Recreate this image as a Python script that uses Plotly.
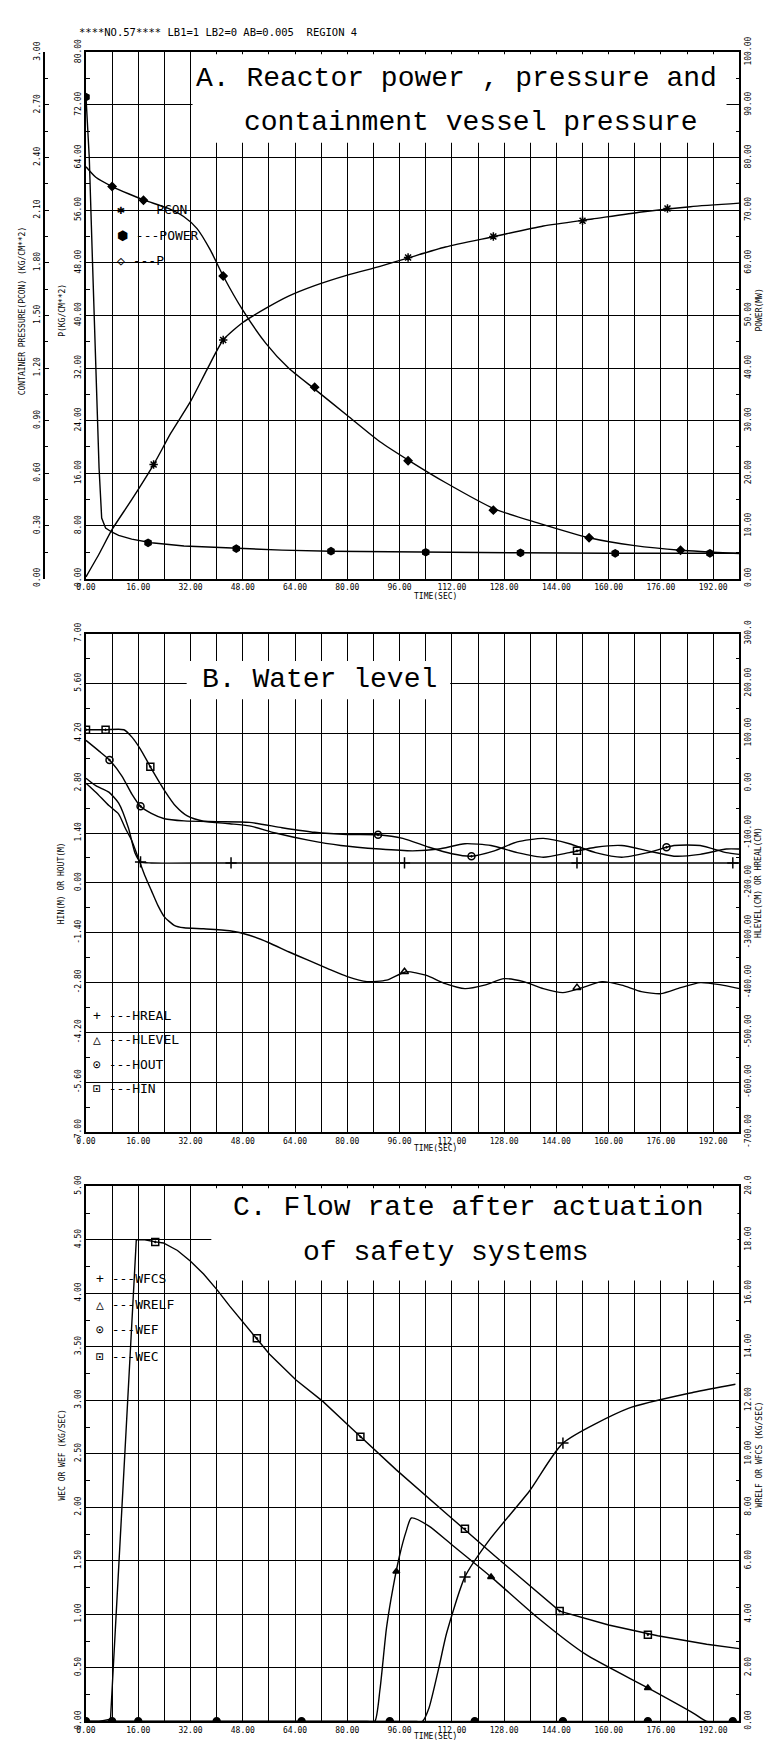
import plotly.graph_objects as go

W, H = 765, 1756
L, R = 77, 739
A_top, A_bot = 37, 573
B_top, B_bot = 629, 1137
C_top, C_bot = 1192, 1737

# ---------------- Panel A data ----------------
tA_P = [0, 3, 8, 13, 18, 25, 30, 34, 38, 42, 48, 55, 62, 70, 80, 90, 99, 110, 125, 138, 154, 168, 182, 200]
P_val = [62.6, 61.0, 59.6, 58.5, 57.5, 56.3, 55.0, 53.2, 50.0, 46.0, 40.8, 35.8, 32.0, 28.8, 24.8, 20.8,
         17.9, 14.6, 10.6, 8.5, 6.2, 5.0, 4.3, 3.8]
tA_P_mk = [8, 17.6, 42, 70, 98.6, 124.7, 154, 182]
P_mk = [59.6, 57.5, 46.0, 29.1, 17.9, 10.4, 6.2, 4.3]

tA_PCON = [0, 4, 8, 14, 20.7, 26, 32, 37, 42, 48, 55, 62, 70, 80, 90, 99, 110, 125, 140, 155, 170, 185, 200]
PCON_val = [0.01, 0.14, 0.28, 0.45, 0.65, 0.83, 1.01, 1.19, 1.36, 1.46, 1.54, 1.61, 1.67, 1.73, 1.78, 1.83,
            1.89, 1.95, 2.01, 2.05, 2.09, 2.12, 2.14]
tA_PCON_mk = [20.7, 42, 98.6, 124.7, 152, 178]
PCON_mk = [0.65, 1.36, 1.83, 1.95, 2.04, 2.11]

tA_POW = [0, 0.4, 1.0, 2.0, 3.0, 4.0, 4.8, 6, 8, 10, 14, 20, 30, 47, 60, 75, 90, 104, 132, 160, 189, 200]
POW_val = [91.5, 86, 80, 60, 40, 21, 11.5, 9.6, 8.8, 8.2, 7.5, 6.8, 6.2, 5.7, 5.4, 5.2, 5.1, 5.0, 4.9, 4.8, 4.8, 4.8]
tA_POW_mk = [0, 19, 46, 75, 104, 133, 162, 191]
POW_mk = [91.5, 6.8, 5.7, 5.2, 5.0, 4.9, 4.8, 4.8]

# ---------------- Panel B data ----------------
tB_HIN = [0, 6, 11.6, 14, 16.7, 19.7, 24, 27.5, 31, 36, 44, 50, 58, 68, 78, 90, 100, 108, 116, 124, 132, 140,
          148, 156, 164, 172, 180, 188, 196, 200]
HIN_val = [4.3, 4.3, 4.3, 4.1, 3.75, 3.26, 2.6, 2.15, 1.88, 1.73, 1.66, 1.6, 1.4, 1.2, 1.05, 0.95, 0.9, 0.95,
           1.1, 1.05, 0.85, 0.72, 0.85, 1.0, 1.05, 0.9, 0.75, 0.8, 0.95, 0.95]
tB_HIN_mk = [0, 6, 19.7, 150.3]
HIN_mk = [4.3, 4.3, 3.26, 0.9]

tB_HOUT = [0, 4, 7.2, 11, 14, 16.7, 20, 24, 30, 40, 50, 60, 70, 80, 89.4, 97, 105, 112, 118, 125, 132, 140,
           148, 156, 164, 172, 180, 188, 196, 200]
HOUT_val = [4.0, 3.7, 3.45, 3.0, 2.5, 2.15, 1.95, 1.8, 1.74, 1.72, 1.70, 1.55, 1.42, 1.36, 1.35, 1.25, 1.0,
            0.82, 0.75, 0.9, 1.15, 1.25, 1.1, 0.85, 0.72, 0.85, 1.05, 1.05, 0.85, 0.8]
tB_HOUT_mk = [7.2, 16.7, 89.4, 118, 177.7]
HOUT_mk = [3.45, 2.15, 1.35, 0.75, 1.0]

tB_HREAL = [0, 3, 7, 10, 13, 15, 16.7, 20, 40, 80, 120, 160, 200]
HREAL_val = [10, -5, -18, -40, -90, -140, -158, -160, -160, -160, -160, -160, -160]
tB_HREAL_mk = [16.7, 44.4, 97.5, 150.3, 198]
HREAL_mk = [-158, -160, -160, -160, -160]

tB_HLEV = [0, 3, 7, 10, 12, 14, 16, 18, 20, 22, 24, 27, 30, 36, 44, 50, 56, 62, 68, 74, 80, 86, 92, 98, 104,
           110, 116, 122, 128, 134, 140, 146, 152, 158, 164, 170, 176, 182, 188, 194, 200]
HLEV_val = [0, -18, -45, -62, -90, -115, -150, -185, -215, -245, -268, -285, -290, -292, -296, -305, -320,
            -338, -355, -372, -388, -398, -395, -378, -385, -402, -412, -405, -392, -398, -412, -420, -410,
            -398, -405, -418, -422, -410, -400, -404, -412]
tB_HLEV_mk = [97.5, 150.3]
HLEV_mk = [-378, -410]

# ---------------- Panel C data ----------------
tC_WEC = [0, 4, 7.5, 10, 12.4, 15.4, 18, 21.2, 23.7, 28, 32, 36, 40.2, 44, 48.3, 52.3, 56.2, 64.3, 72.5, 81.6,
          95, 110, 125, 145, 160, 175, 190, 200]
WEC_val = [0, 0, 0.02, 1.5, 2.79, 4.5, 4.5, 4.48, 4.47, 4.4, 4.3, 4.18, 4.03, 3.88, 3.72, 3.58, 3.43, 3.19,
           2.99, 2.73, 2.35, 1.95, 1.55, 1.03, 0.9, 0.8, 0.72, 0.68]
tC_WEC_mk = [21.2, 52.3, 84, 116, 145, 172]
WEC_mk = [4.48, 3.58, 2.66, 1.8, 1.03, 0.81]

tC_WRELF = [0, 86, 88.4, 90, 92, 94, 96, 98, 99.6, 105, 112, 124, 138, 153, 172, 186, 190, 200]
WRELF_val = [0, 0, 0, 1.2, 3.5, 5.0, 6.2, 7.1, 7.6, 7.3, 6.6, 5.4, 3.9, 2.5, 1.25, 0.3, 0, 0]
tC_WRELF_mk = [95, 124, 172]
WRELF_mk = [5.6, 5.4, 1.25]

tC_WFCS = [0, 100, 103, 105, 108, 110.4, 116, 123.6, 135.7, 146, 166, 186, 198.8]
WFCS_val = [0, 0, 0, 0.5, 2.0, 3.3, 5.4, 6.8, 8.6, 10.4, 11.7, 12.3, 12.6]
tC_WFCS_mk = [116, 146]
WFCS_mk = [5.4, 10.4]

tC_WEF = [0, 8, 16, 40, 66, 93, 119, 146, 172, 198]
WEF_val = [0, 0, 0, 0, 0, 0, 0, 0, 0, 0]

x_ticks = list(range(0, 193, 16))
x_minor = list(range(8, 200, 16))

# ------------------------------------------------------------
TICKF = dict(family="DejaVu Sans Mono", size=8, color="black")
fig = go.Figure()


def line(x, y, xa, ya, shape="spline"):
    fig.add_trace(go.Scatter(x=x, y=y, xaxis=xa, yaxis=ya, mode="lines", showlegend=False,
                             line=dict(color="black", width=1.4, shape=shape, smoothing=0.6),
                             hoverinfo="skip"))


def marks(x, y, xa, ya, symbol, size=7):
    fig.add_trace(go.Scatter(x=x, y=y, xaxis=xa, yaxis=ya, mode="markers", showlegend=False,
                             marker=dict(color="black", size=size, symbol=symbol,
                                         line=dict(color="black", width=1.5)),
                             hoverinfo="skip"))


# Panel A: y = P, y2 = PCON, y3 = POWER
line(tA_P, P_val, "x", "y")
marks(tA_P_mk, P_mk, "x", "y", "diamond", 6)
line(tA_PCON, PCON_val, "x", "y2")
marks(tA_PCON_mk, PCON_mk, "x", "y2", "asterisk-open", 7)
line(tA_POW, POW_val, "x", "y3", shape="linear")
marks(tA_POW_mk, POW_mk, "x", "y3", "hexagon", 7)

# Panel B: y4 = H (m), y5 = cm
line(tB_HIN, HIN_val, "x2", "y4")
marks(tB_HIN_mk, HIN_mk, "x2", "y4", "square-open-dot", 7)
line(tB_HOUT, HOUT_val, "x2", "y4")
marks(tB_HOUT_mk, HOUT_mk, "x2", "y4", "circle-open-dot", 7)
line(tB_HREAL, HREAL_val, "x2", "y5")
marks(tB_HREAL_mk, HREAL_mk, "x2", "y5", "cross-thin-open", 8)
line(tB_HLEV, HLEV_val, "x2", "y5")
marks(tB_HLEV_mk, HLEV_mk, "x2", "y5", "triangle-up-open", 7)

# Panel C: y6 = WEC/WEF, y7 = WRELF/WFCS
line(tC_WEC, WEC_val, "x3", "y6", shape="linear")
marks(tC_WEC_mk, WEC_mk, "x3", "y6", "square-open-dot", 7)
line(tC_WEF, WEF_val, "x3", "y6", shape="linear")
marks(tC_WEF, WEF_val, "x3", "y6", "circle", 7)
line(tC_WRELF, WRELF_val, "x3", "y7")
marks(tC_WRELF_mk, WRELF_mk, "x3", "y7", "triangle-up", 6)
line(tC_WFCS, WFCS_val, "x3", "y7")
marks(tC_WFCS_mk, WFCS_mk, "x3", "y7", "cross-thin-open", 8)


def xcfg(anchor):
    return dict(domain=[L / W, R / W], anchor=anchor, range=[0, 200],
                tickvals=x_ticks, ticktext=[f"{v:.2f}" for v in x_ticks],
                showgrid=True, gridcolor="black", gridwidth=1,
                minor=dict(tickvals=x_minor, showgrid=True, gridcolor="black", gridwidth=0.8,
                           ticks="inside", ticklen=4, tickcolor="black"),
                ticks="inside", ticklen=5, tickcolor="black",
                showline=True, linecolor="black", linewidth=1.6, mirror=True,
                zeroline=False, tickfont=TICKF, tickangle=0, fixedrange=True)


def ydom(top, bot):
    return [1 - bot / H, 1 - top / H]


def ycfg(top, bot, lo, hi, step, anchor, grid=True, side="left", overlay=None,
         free_pos=None, first=None):
    n = int(round((hi - lo) / step))
    vals = [lo + i * step for i in range(n + 1)]
    text = [f"{v:.2f}" if abs(v) > 1e-9 else "0.00" for v in vals]
    if first is not None:
        text[-1] = first
    d = dict(range=[lo, hi], tickvals=vals, ticktext=text,
             showgrid=grid, gridcolor="black", gridwidth=1.2,
             minor=dict(tickvals=[lo + (i + 0.5) * step for i in range(n)], ticks="inside",
                        ticklen=4, tickcolor="black", showgrid=False),
             ticks="inside", ticklen=5, tickcolor="black",
             showline=True, linecolor="black", linewidth=1.6,
             zeroline=False, tickfont=TICKF, tickangle=-90, side=side, fixedrange=True)
    if overlay:
        d["overlaying"] = overlay
    else:
        d["domain"] = ydom(top, bot)
    if free_pos is not None:
        d["anchor"] = "free"
        d["position"] = free_pos
    else:
        d["anchor"] = anchor
    return d


fig.update_layout(
    width=W, height=H, margin=dict(l=0, r=0, t=0, b=0),
    paper_bgcolor="white", plot_bgcolor="white", showlegend=False,
    xaxis=xcfg("y"), xaxis2=xcfg("y4"), xaxis3=xcfg("y6"),
    yaxis=ycfg(A_top, A_bot, 0, 80, 8, "x"),
    yaxis2=ycfg(A_top, A_bot, 0, 3, 0.3, "x", grid=False, overlay="y", free_pos=34 / W),
    yaxis3=ycfg(A_top, A_bot, 0, 100, 10, "x", grid=False, side="right", overlay="y"),
    yaxis4=ycfg(B_top, B_bot, -7, 7, 1.4, "x2"),
    yaxis5=ycfg(B_top, B_bot, -700, 300, 100, "x2", grid=False, side="right", overlay="y4",
                first="300.0"),
    yaxis6=ycfg(C_top, C_bot, 0, 5, 0.5, "x3"),
    yaxis7=ycfg(C_top, C_bot, 0, 20, 2, "x3", grid=False, side="right", overlay="y6", first="20.0"),
)


# white boxes behind the panel titles (they blank the grid there)
def white_box(x0, y0, x1, y1):
    fig.add_shape(type="rect", xref="paper", yref="paper", x0=x0 / W, x1=x1 / W,
                  y0=1 - y1 / H, y1=1 - y0 / H, fillcolor="white", line=dict(width=0),
                  layer="above")


white_box(185, 39, 726, 129)
white_box(179, 657, 446, 696)
white_box(204, 1194, 737, 1288)


def ann(text, px, py, size=8, angle=0, family="DejaVu Sans Mono", xanchor="center", yanchor="middle"):
    fig.add_annotation(text=text, x=px / W, y=1 - py / H, xref="paper", yref="paper", showarrow=False,
                       font=dict(family=family, size=size, color="black"), textangle=angle,
                       xanchor=xanchor, yanchor=yanchor)


# header
ann("****NO.57**** LB1=1 LB2=0 AB=0.005  REGION 4", 68, 16, size=10.5, xanchor="left")

# panel titles
TF = "Liberation Mono"
ann("A. Reactor power , pressure and", 452, 64, size=28, family=TF)
ann("containment vessel pressure", 467, 108, size=28, family=TF)
ann("B. Water level", 314, 676, size=28, family=TF)
ann("C. Flow rate after actuation", 464, 1214, size=28, family=TF)
ann("of safety systems", 442, 1259, size=28, family=TF)

# axis titles
ann("CONTAINER PRESSURE(PCON) (KG/CM**2)", 13, 300, size=8, angle=-90)
ann("P(KG/CM**2)", 53, 300, size=8, angle=-90)
ann("POWER(MW)", 759, 300, size=8, angle=-90)
ann("TIME(SEC)", 431, 591, size=8)
ann("HIN(M) OR HOUT(M)", 53, 883, size=8, angle=-90)
ann("HLEVEL(CM) OR HREAL(CM)", 759, 883, size=8, angle=-90)
ann("TIME(SEC)", 431, 1154, size=8)
ann("WEC OR WEF (KG/SEC)", 53, 1465, size=8, angle=-90)
ann("WRELF OR WFCS (KG/SEC)", 759, 1465, size=8, angle=-90)
ann("TIME(SEC)", 431, 1752, size=8)

# legends
LF = 13
ann("✱ ---PCON", 106, 197, size=LF, xanchor="left")
ann("⬢ ---POWER", 106, 224, size=LF, xanchor="left")
ann("◇ ---P", 106, 249, size=LF, xanchor="left")
ann("+ ---HREAL", 82, 1018, size=LF, xanchor="left")
ann("△ ---HLEVEL", 82, 1043, size=LF, xanchor="left")
ann("⊙ ---HOUT", 82, 1068, size=LF, xanchor="left")
ann("⊡ ---HIN", 82, 1092, size=LF, xanchor="left")
ann("+ ---WFCS", 85, 1286, size=LF, xanchor="left")
ann("△ ---WRELF", 85, 1312, size=LF, xanchor="left")
ann("⊙ ---WEF", 85, 1338, size=LF, xanchor="left")
ann("⊡ ---WEC", 85, 1365, size=LF, xanchor="left")

fig.write_html("out.html")
